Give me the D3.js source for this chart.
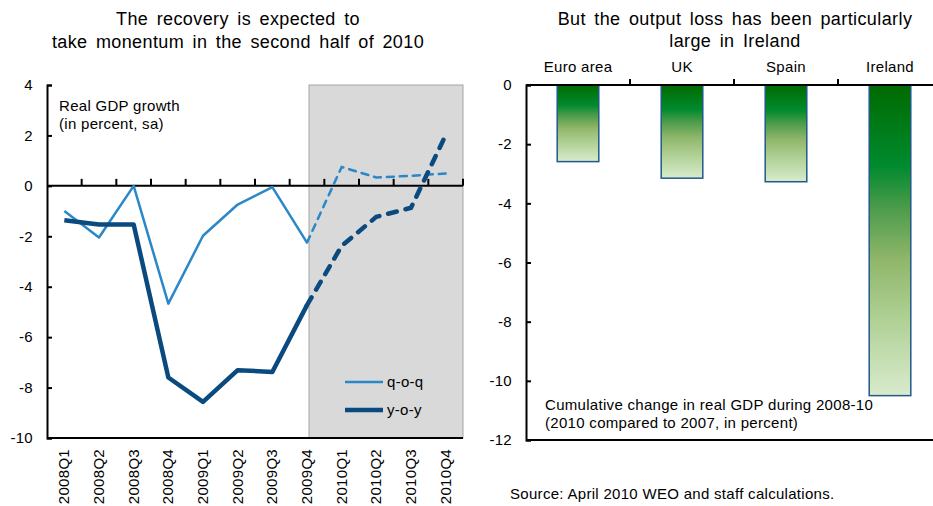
<!DOCTYPE html>
<html>
<head>
<meta charset="utf-8">
<script src="https://cdn.jsdelivr.net/npm/d3@7"></script>
<style>
  body { margin: 0; background: #fff; }
  svg { display: block; font-family: "Liberation Sans", Arial, sans-serif; }
  .t { font-size: 18px; letter-spacing: 0.4px; word-spacing: 3px; }
  .s { font-size: 15px; letter-spacing: 0.3px; }
</style>
</head>
<body>
<svg id="chart" width="933" height="506"></svg>
<script>
// left panel data
const quarters = ["2008Q1", "2008Q2", "2008Q3", "2008Q4", "2009Q1", "2009Q2",
  "2009Q3", "2009Q4", "2010Q1", "2010Q2", "2010Q3", "2010Q4"];
const qoq = [-1.0, -2.05, 0.0, -4.67, -1.98, -0.74, -0.05, -2.25, 0.75, 0.33, 0.40, 0.49];
const yoy = [-1.36, -1.53, -1.53, -7.6, -8.57, -7.31, -7.38, -4.73, -2.38, -1.23, -0.87, 2.01];
const forecastFrom = "2009Q4";
const leftTicks = [4, 2, 0, -2, -4, -6, -8, -10];

// right panel data
const countries = ["Euro area", "UK", "Spain", "Ireland"];
const outputLoss = [-2.59, -3.15, -3.27, -10.5];
const rightTicks = [0, -2, -4, -6, -8, -10, -12];

const svg = d3.select("#chart");

/* ---------- left panel ---------- */
const L = { left: 47, right: 463, top: 85, bottom: 438 };
const x = d3.scaleBand().domain(quarters).range([L.left, L.right]);
const y = d3.scaleLinear().domain([-10, 4]).range([L.bottom, L.top]);
const cx = q => x(q) + x.bandwidth() / 2;

const left = svg.append("g");

left.append("text").attr("class", "t").attr("text-anchor", "middle").attr("fill", "#000")
  .selectAll("tspan").data(["The recovery is expected to", "take monentum in the second half of 2010"])
  .join("tspan").attr("x", 238).attr("y", (d, i) => 25 + i * 23).text(d => d);

// shaded forecast area
left.append("rect")
  .attr("x", cx(forecastFrom) + 2).attr("y", L.top)
  .attr("width", L.right - cx(forecastFrom) - 2).attr("height", L.bottom - L.top)
  .attr("fill", "#d9d9d9").attr("stroke", "#a6a6a6").attr("stroke-width", 1);

// y axis
const yAxis = left.append("g").attr("transform", `translate(${L.left},0)`)
  .call(d3.axisLeft(y).tickValues(leftTicks).tickSize(-5).tickPadding(14).tickFormat(d => String(d)));
yAxis.select(".domain").attr("stroke", "#000").attr("stroke-width", 2);
yAxis.selectAll(".tick line").attr("stroke", "#000").attr("stroke-width", 2);
yAxis.selectAll(".tick text").attr("class", "s").attr("font-size", null).attr("fill", "#000");

// zero line with category ticks going up
const zero = left.append("g").attr("transform", `translate(0,${y(0)})`);
zero.append("line").attr("x1", L.left).attr("x2", L.right).attr("stroke", "#000").attr("stroke-width", 2);
zero.selectAll("line.tk").data(quarters)
  .join("line").attr("class", "tk")
  .attr("x1", d => x(d) + x.bandwidth())
  .attr("x2", d => x(d) + x.bandwidth())
  .attr("y1", 0).attr("y2", -7).attr("stroke", "#000").attr("stroke-width", 2);

// bottom axis line + rotated labels
left.append("line").attr("x1", L.left).attr("x2", L.right)
  .attr("y1", L.bottom).attr("y2", L.bottom).attr("stroke", "#000").attr("stroke-width", 2);
left.selectAll("text.q").data(quarters).join("text").attr("class", "q s")
  .attr("transform", d => `translate(${cx(d) + 5},449) rotate(-90)`)
  .attr("text-anchor", "end").attr("fill", "#000").text(d => d);

// lines
const pts = vals => quarters.map((q, i) => [cx(q), y(vals[i])]);
const fi = quarters.indexOf(forecastFrom);
const line = d3.line();
function drawSeries(vals, color, width, dash) {
  const p = pts(vals);
  left.append("path").attr("d", line(p.slice(0, fi + 1))).attr("fill", "none")
    .attr("stroke", color).attr("stroke-width", width).attr("stroke-linejoin", "round");
  left.append("path").attr("d", line(p.slice(fi))).attr("fill", "none")
    .attr("stroke", color).attr("stroke-width", width).attr("stroke-dasharray", dash)
    .attr("stroke-linecap", "round");
}
drawSeries(qoq, "#2a88c8", 2.5, "7,6");
drawSeries(yoy, "#0b4a7e", 4.5, "9,9");

// annotation
left.append("text").attr("class", "s").attr("fill", "#000")
  .selectAll("tspan").data(["Real GDP growth", "(in percent, sa)"])
  .join("tspan").attr("x", 59).attr("y", (d, i) => 111 + i * 18).text(d => d);

// legend
const legend = [["q-o-q", "#2a88c8", 2.5, 382], ["y-o-y", "#0b4a7e", 4.5, 410]];
legend.forEach(([name, color, w, ly]) => {
  left.append("line").attr("x1", 345).attr("x2", 383).attr("y1", ly).attr("y2", ly)
    .attr("stroke", color).attr("stroke-width", w);
  left.append("text").attr("class", "s").attr("x", 387).attr("y", ly + 5).attr("fill", "#000").text(name);
});

/* ---------- right panel ---------- */
const R = { left: 526, right: 942, top: 85, bottom: 440 };
const xb = d3.scaleBand().domain(countries).range([R.left, R.right]).paddingInner(0.6).paddingOuter(0.3);
const xo = d3.scaleBand().domain(countries).range([R.left, R.right]);
const yb = d3.scaleLinear().domain([-12, 0]).range([R.bottom, R.top]);

const right = svg.append("g");

right.append("text").attr("class", "t").attr("text-anchor", "middle").attr("fill", "#000")
  .selectAll("tspan").data(["But the output loss has been particularly", "large in Ireland"])
  .join("tspan").attr("x", 735).attr("y", (d, i) => 25 + i * 22).text(d => d);

const defs = svg.append("defs");
const grad = defs.append("linearGradient").attr("id", "barGrad")
  .attr("x1", 0).attr("x2", 0).attr("y1", 0).attr("y2", 1);
[[0, "#006a00"], [0.26, "#008a2e"], [0.4, "#4e9c4c"], [0.56, "#8fb66a"], [0.75, "#afd094"], [1, "#d8ebcd"]]
  .forEach(([o, c]) => grad.append("stop").attr("offset", o).attr("stop-color", c));

right.selectAll("rect.bar").data(countries).join("rect").attr("class", "bar")
  .attr("x", d => xb(d)).attr("width", xb.bandwidth())
  .attr("y", yb(0)).attr("height", (d, i) => yb(outputLoss[i]) - yb(0))
  .attr("fill", "url(#barGrad)").attr("stroke", "#1f5a8a").attr("stroke-width", 1.5);

const yAxisR = right.append("g").attr("transform", `translate(${R.left},0)`)
  .call(d3.axisLeft(yb).tickValues(rightTicks).tickSize(-5).tickPadding(14).tickFormat(d => String(d)));
yAxisR.select(".domain").attr("stroke", "#000").attr("stroke-width", 2);
yAxisR.selectAll(".tick line").attr("stroke", "#000").attr("stroke-width", 2);
yAxisR.selectAll(".tick text").attr("class", "s").attr("font-size", null).attr("fill", "#000");

// top axis at zero
right.append("line").attr("x1", R.left).attr("x2", R.right).attr("y1", yb(0)).attr("y2", yb(0))
  .attr("stroke", "#000").attr("stroke-width", 2);
right.selectAll("line.tk").data(countries.slice(1)).join("line").attr("class", "tk")
  .attr("x1", d => xo(d)).attr("x2", d => xo(d)).attr("y1", yb(0)).attr("y2", yb(0) - 6)
  .attr("stroke", "#000").attr("stroke-width", 2);
right.selectAll("text.c").data(countries).join("text").attr("class", "c s")
  .attr("x", d => xo(d) + xo.bandwidth() / 2).attr("y", 72)
  .attr("text-anchor", "middle").attr("fill", "#000").text(d => d);

// bottom axis line
right.append("line").attr("x1", R.left).attr("x2", R.right).attr("y1", R.bottom).attr("y2", R.bottom)
  .attr("stroke", "#000").attr("stroke-width", 2);

right.append("text").attr("class", "s").attr("fill", "#000")
  .selectAll("tspan").data(["Cumulative change in real GDP during 2008-10", "(2010 compared to 2007, in percent)"])
  .join("tspan").attr("x", 545).attr("y", (d, i) => 410 + i * 18).text(d => d);

svg.append("text").attr("class", "s").attr("x", 510).attr("y", 499).attr("fill", "#000")
  .text("Source: April 2010 WEO and  staff calculations.");
</script>
</body>
</html>
